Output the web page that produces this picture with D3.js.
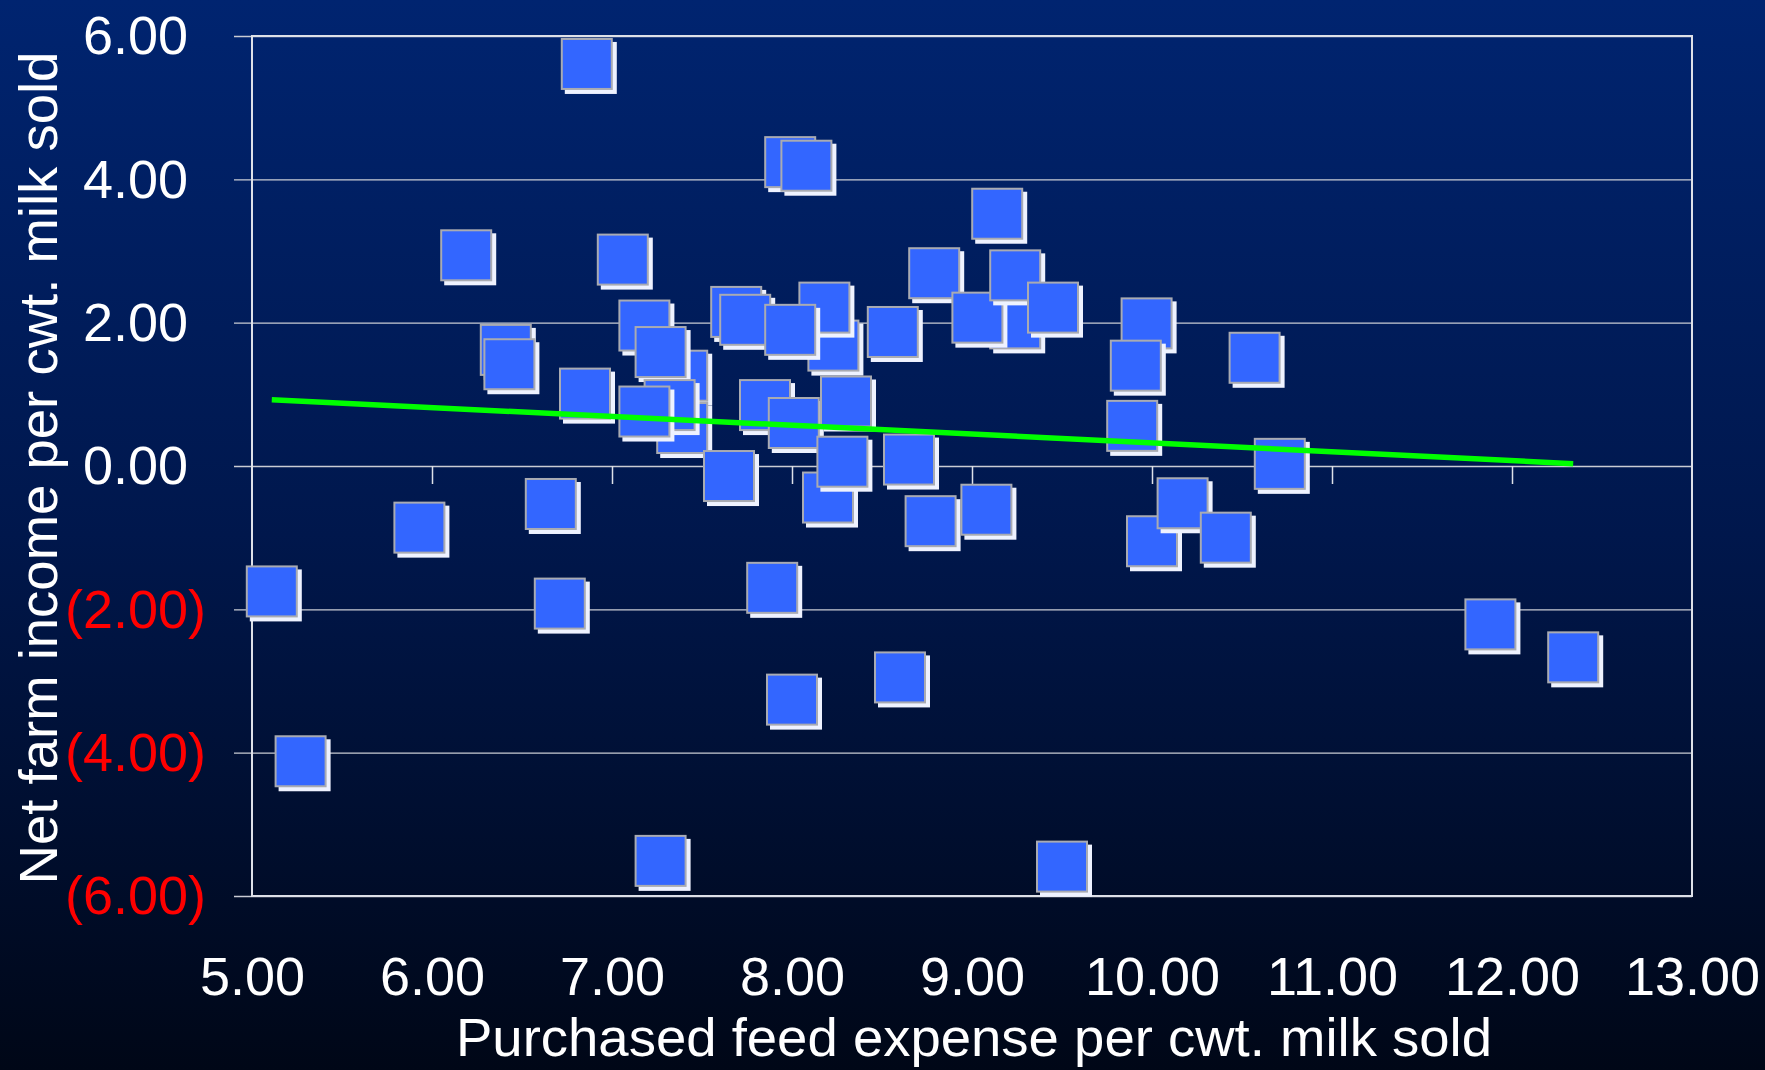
<!DOCTYPE html>
<html>
<head>
<meta charset="utf-8">
<script src="https://cdn.jsdelivr.net/npm/d3@7"></script>
<style>
  html, body { margin: 0; padding: 0; background: #000818; }
  svg { display: block; }
</style>
</head>
<body>
<svg id="chart" width="1765" height="1070"></svg>
<script>
// Purchased feed expense ($/cwt) and net farm income ($/cwt) per farm, drawn in this order
const feedCost = [
  5.11, 5.27, 5.93, 6.19, 6.41, 6.43, 6.66, 6.71, 6.85, 6.86,
  7.06, 7.18, 7.39, 7.27, 7.39, 7.32, 7.18, 7.27, 7.65, 7.69,
  7.74, 7.85, 7.89, 7.99, 8.08, 8.23, 8.18, 7.99, 8.01, 8.00,
  8.20, 8.28, 8.30, 8.56, 8.60, 8.65, 8.77, 8.79, 9.24, 9.03,
  9.08, 9.14, 9.24, 9.45, 9.50, 9.89, 9.97, 9.91, 10.00, 10.17,
  10.41, 10.57, 10.71, 11.88, 12.34
];
const netIncome = [
  -1.75, -4.12, -0.86, 2.94, 1.62, 1.42, -0.53, -1.92, 1.01, 5.61,
  2.88, 1.96, 1.26, 1.59, 0.53, 0.85, 0.76, -5.51, -0.14, 2.15,
  2.04, 0.85, -1.70, 4.24, 4.19, 1.68, 2.21, 1.90, 0.60, -3.26,
  -0.44, 0.06, 0.90, 1.87, -2.95, 0.09, -0.77, 2.69, 1.99, 2.07,
  -0.61, 3.52, 2.66, 2.21, -5.59, 0.56, 1.99, 1.40, -1.05, -0.52,
  -1.00, 1.51, 0.03, -2.21, -2.67
];
// Linear trend line end points
const trendX = [5.11, 12.34];
const trendY = [0.925, 0.033];

const xTicks = [5, 6, 7, 8, 9, 10, 11, 12, 13];
const yTicks = [-6, -4, -2, 0, 2, 4, 6];
const xTitle = "Purchased feed expense per cwt. milk sold";
const yTitle = "Net farm income per cwt. milk sold";

const FONT = "'Liberation Sans', Arial, Helvetica, sans-serif";
const TICK_FONT = 54;
const TITLE_FONT = 54.5;
const plot = { left: 252, right: 1692, top: 36, bottom: 896 };

const svg = d3.select("#chart");

const x = d3.scaleLinear().domain([5, 13]).range([plot.left, plot.right]);
const y = d3.scaleLinear().domain([-6, 6]).range([plot.bottom, plot.top]);

// Background gradient
const defs = svg.append("defs");
const grad = defs.append("linearGradient")
  .attr("id", "bg").attr("x1", 0).attr("y1", 0).attr("x2", 0).attr("y2", 1);
grad.append("stop").attr("offset", "0%").attr("stop-color", "#002470");
grad.append("stop").attr("offset", "50%").attr("stop-color", "#00174c");
grad.append("stop").attr("offset", "100%").attr("stop-color", "#000717");
svg.append("rect").attr("width", 1765).attr("height", 1070).attr("fill", "url(#bg)");

// Horizontal gridlines with short ticks left of the plot
const gridAxis = d3.axisRight(y)
  .tickValues(yTicks)
  .tickSize(plot.right - (plot.left - 18))
  .tickFormat("");
const gridG = svg.append("g")
  .attr("transform", `translate(${plot.left - 18},0)`)
  .call(gridAxis);
gridG.select(".domain").remove();
gridG.selectAll(".tick line")
  .attr("stroke", "#c9ccd4").attr("stroke-width", 1.3);

// Plot frame
svg.append("rect")
  .attr("x", plot.left).attr("y", y(6))
  .attr("width", plot.right - plot.left).attr("height", y(-6) - y(6))
  .attr("fill", "none").attr("stroke", "#dde0e8").attr("stroke-width", 2);

// X ticks hanging from the zero line
const xTickAxis = d3.axisBottom(x)
  .tickValues(xTicks.slice(1, -1))
  .tickSize(18)
  .tickFormat("");
const xTickG = svg.append("g")
  .attr("transform", `translate(0,${y(0)})`)
  .call(xTickAxis);
xTickG.select(".domain").remove();
xTickG.selectAll(".tick line").attr("stroke", "#dde0e8").attr("stroke-width", 1.5);

// Y tick labels: negatives in parentheses and red
const fmtY = v => v < 0 ? `(${Math.abs(v).toFixed(2)})` : v.toFixed(2);
const yLabAxis = d3.axisLeft(y).tickValues(yTicks).tickSize(0).tickPadding(0).tickFormat(fmtY);
const yLabG = svg.append("g")
  .attr("transform", "translate(206,0)")
  .call(yLabAxis);
yLabG.select(".domain").remove();
yLabG.attr("font-size", TICK_FONT).attr("font-family", FONT);
yLabG.selectAll(".tick text")
  .attr("fill", d => d < 0 ? "#ff0000" : "#ffffff")
  .attr("dx", d => d < 0 ? 0 : -0.333 * TICK_FONT)
  .attr("dy", "0.33em");

// X tick labels below the plot
const xLabAxis = d3.axisBottom(x).tickValues(xTicks).tickSize(0).tickPadding(61)
  .tickFormat(v => v.toFixed(2));
const xLabG = svg.append("g")
  .attr("transform", `translate(0,${plot.bottom})`)
  .call(xLabAxis);
xLabG.select(".domain").remove();
xLabG.attr("font-size", TICK_FONT).attr("font-family", FONT);
xLabG.selectAll(".tick text").attr("fill", "#ffffff");

// Axis titles
svg.append("text")
  .attr("x", (plot.left + plot.right) / 2 + 2).attr("y", 1056)
  .attr("text-anchor", "middle")
  .attr("font-family", FONT).attr("font-size", TITLE_FONT).attr("fill", "#ffffff")
  .text(xTitle);
svg.append("text")
  .attr("transform", `translate(57,${(plot.top + plot.bottom) / 2 + 2}) rotate(-90)`)
  .attr("text-anchor", "middle")
  .attr("font-family", FONT).attr("font-size", TITLE_FONT).attr("fill", "#ffffff")
  .text(yTitle);

// Square markers with an offset light shadow
const pts = feedCost.map((v, i) => ({ fx: v, ni: netIncome[i] }));
const size = 52;
const markerG = svg.append("g");
const m = markerG.selectAll("g.pt").data(pts).join("g").attr("class", "pt")
  .attr("transform", d => `translate(${x(d.fx)},${y(d.ni)})`);
m.append("rect")
  .attr("x", -size / 2 + 4).attr("y", -size / 2 + 4)
  .attr("width", size).attr("height", size)
  .attr("fill", "#eef2ff");
m.append("rect")
  .attr("x", -size / 2 + 1).attr("y", -size / 2 + 1)
  .attr("width", size - 2).attr("height", size - 2)
  .attr("fill", "#3366ff")
  .attr("stroke", "#a9abb2").attr("stroke-width", 2);

// Trend line
const trend = trendX.map((v, i) => [v, trendY[i]]);
svg.append("path")
  .datum(trend)
  .attr("d", d3.line().x(d => x(d[0])).y(d => y(d[1])))
  .attr("stroke", "#00ff00").attr("stroke-width", 5.5).attr("fill", "none");
</script>
</body>
</html>
